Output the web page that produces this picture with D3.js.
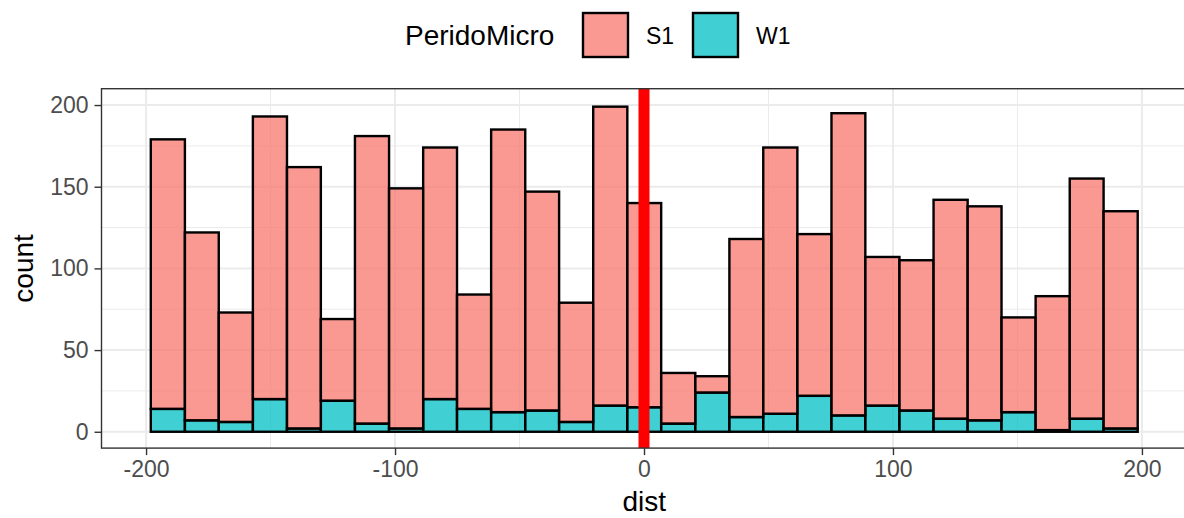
<!DOCTYPE html>
<html>
<head>
<meta charset="utf-8">
<script src="https://cdn.jsdelivr.net/npm/d3@7"></script>
<style>
  body { margin: 0; background: white; }
  text { font-family: "Liberation Sans", Arial, sans-serif; }
</style>
</head>
<body>
<div id="chart"></div>
<script>
// Histogram bins (left edges + last right edge)
var binEdges = [-198.1, -184.4, -170.8, -157.1, -143.4, -129.8, -116.1, -102.4, -88.7, -75.1,
    -61.4, -47.7, -34.1, -20.4, -6.7, 6.9, 20.6, 34.3, 47.9, 61.6,
    75.3, 88.9, 102.6, 116.3, 130.0, 143.6, 157.3, 171.0, 184.6, 198.3];

// Counts per bin for each period
var s1Counts = [165, 115, 67, 173, 160, 50, 176, 147, 154, 70,
    173, 134, 73, 183, 125, 31, 10, 109, 163, 99,
    185, 91, 92, 134, 131, 58, 82, 147, 133];
var w1Counts = [14, 7, 6, 20, 2, 19, 5, 2, 20, 14,
    12, 13, 6, 16, 15, 5, 24, 9, 11, 22,
    10, 16, 13, 8, 7, 12, 1, 8, 2];

var series = ["S1", "W1"];
var seriesColors = ["#F8766D", "#00BFC4"];
var xTicks = [-200, -100, 0, 100, 200];
var xMinor = [-150, -50, 50, 150];
var yTicks = [0, 50, 100, 150, 200];
var yMinor = [25, 75, 125, 175];
var vlineAt = 0;

var width = 1184;
var height = 518;

// Panel area (the panel runs a little past the right edge of the picture)
var panel = { left: 101.5, right: 1187, top: 88.7, bottom: 448.1 };

var svg = d3.select("#chart").append("svg")
    .attr("width", width)
    .attr("height", height);

var x = d3.scaleLinear()
    .domain([-217.9, 218.1])
    .range([panel.left, panel.right]);

var y = d3.scaleLinear()
    .domain([-10, 210])
    .range([panel.bottom, panel.top]);

var color = d3.scaleOrdinal().domain(series).range(seriesColors);

// Build table for stacking, W1 at the bottom
var table = s1Counts.map(function (d, i) {
    return { x0: binEdges[i], x1: binEdges[i + 1], S1: d, W1: w1Counts[i] };
});
var stacked = d3.stack().keys(["W1", "S1"])(table);

// Grid lines
var grid = svg.append("g");
grid.selectAll(".ymin").data(yMinor).enter().append("line")
    .attr("x1", panel.left).attr("x2", panel.right)
    .attr("y1", d => y(d)).attr("y2", d => y(d))
    .attr("stroke", "#EBEBEB").attr("stroke-width", 1);
grid.selectAll(".xmin").data(xMinor).enter().append("line")
    .attr("y1", panel.top).attr("y2", panel.bottom)
    .attr("x1", d => x(d)).attr("x2", d => x(d))
    .attr("stroke", "#EBEBEB").attr("stroke-width", 1);
grid.selectAll(".ymaj").data(yTicks).enter().append("line")
    .attr("x1", panel.left).attr("x2", panel.right)
    .attr("y1", d => y(d)).attr("y2", d => y(d))
    .attr("stroke", "#EBEBEB").attr("stroke-width", 2);
grid.selectAll(".xmaj").data(xTicks).enter().append("line")
    .attr("y1", panel.top).attr("y2", panel.bottom)
    .attr("x1", d => x(d)).attr("x2", d => x(d))
    .attr("stroke", "#EBEBEB").attr("stroke-width", 2);

// Bars
var layers = svg.selectAll(".layer")
    .data(stacked)
    .enter().append("g")
    .attr("class", "layer")
    .attr("fill", d => color(d.key))
    .attr("fill-opacity", 0.75);

layers.selectAll("rect")
    .data(d => d)
    .enter().append("rect")
    .attr("x", d => x(d.data.x0))
    .attr("width", d => x(d.data.x1) - x(d.data.x0))
    .attr("y", d => y(d[1]))
    .attr("height", d => y(d[0]) - y(d[1]))
    .attr("stroke", "black")
    .attr("stroke-width", 2.4);

// Red vertical line
svg.append("line")
    .attr("x1", x(vlineAt)).attr("x2", x(vlineAt))
    .attr("y1", panel.top).attr("y2", panel.bottom)
    .attr("stroke", "#FF0000")
    .attr("stroke-width", 11);

// Panel border
svg.append("rect")
    .attr("x", panel.left).attr("y", panel.top)
    .attr("width", panel.right - panel.left)
    .attr("height", panel.bottom - panel.top)
    .attr("fill", "none")
    .attr("stroke", "#333333")
    .attr("stroke-width", 1.4);

// Axes (plain hyphen for negatives, like the reference)
var fmt = d => String(d);
var xAxis = svg.append("g")
    .attr("transform", "translate(0," + panel.bottom + ")")
    .call(d3.axisBottom(x).tickValues(xTicks).tickFormat(fmt).tickSize(7).tickPadding(6));
var yAxis = svg.append("g")
    .attr("transform", "translate(" + panel.left + ",0)")
    .call(d3.axisLeft(y).tickValues(yTicks).tickFormat(fmt).tickSize(7).tickPadding(6));

[xAxis, yAxis].forEach(function (ax) {
    ax.select(".domain").remove();
    ax.selectAll(".tick line").attr("stroke", "#333333").attr("stroke-width", 1.4);
    ax.selectAll(".tick text")
        .attr("fill", "#4D4D4D")
        .style("font-size", "23px")
        .style("font-family", "Liberation Sans, Arial, sans-serif");
});

// Axis titles
svg.append("text")
    .attr("x", (panel.left + panel.right) / 2)
    .attr("y", 511)
    .attr("text-anchor", "middle")
    .style("font-size", "28px")
    .text("dist");

svg.append("text")
    .attr("transform", "translate(33," + (panel.top + panel.bottom) / 2 + ") rotate(-90)")
    .attr("text-anchor", "middle")
    .style("font-size", "28px")
    .text("count");

// Legend
var legend = svg.append("g");
legend.append("text")
    .attr("x", 405).attr("y", 45)
    .style("font-size", "28px")
    .text("PeridoMicro");

var keyX = [583, 693];
var keys = legend.selectAll(".key")
    .data(series)
    .enter().append("g")
    .attr("class", "key")
    .attr("transform", (d, i) => "translate(" + keyX[i] + ",13)");

keys.append("rect")
    .attr("width", 45).attr("height", 44)
    .attr("fill", d => color(d))
    .attr("fill-opacity", 0.75)
    .attr("stroke", "black")
    .attr("stroke-width", 2.4);

keys.append("text")
    .attr("x", 63).attr("y", 31)
    .style("font-size", "23px")
    .text(d => d);
</script>
</body>
</html>
